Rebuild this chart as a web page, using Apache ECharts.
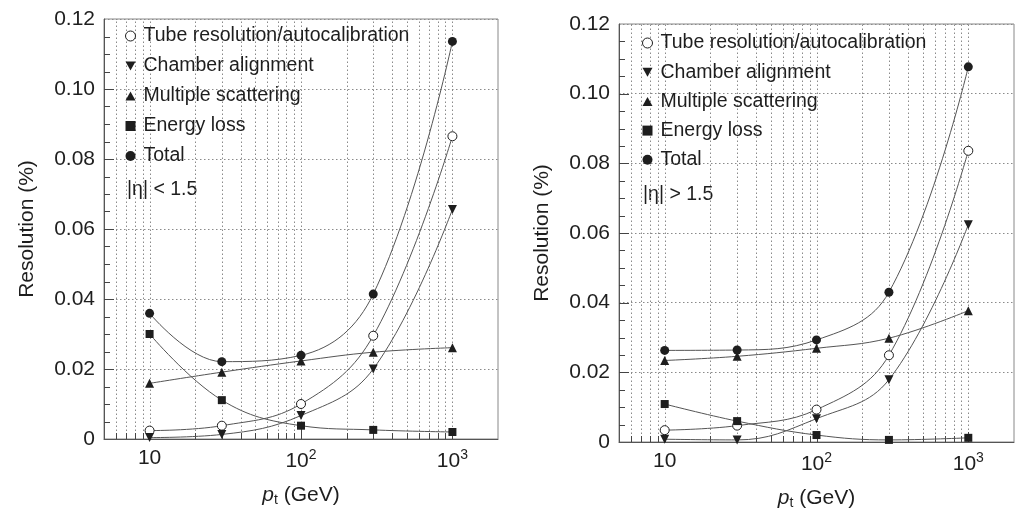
<!DOCTYPE html>
<html>
<head>
<meta charset="utf-8">
<script src="https://cdn.jsdelivr.net/npm/echarts@6.0.0/dist/echarts.min.js"></script>
<style>
  html, body { margin: 0; padding: 0; background: #fff; }
  #chart { width: 1025px; height: 515px; }
</style>
</head>
<body>
<div id="chart"></div>
<script>
// pt points (GeV)
const ptValues = [10, 30, 100, 300, 1000]

// |eta| < 1.5
const tubeC  = [0.0024, 0.0038, 0.0100, 0.0295, 0.0865]
const alignC = [0.0004, 0.0013, 0.0067, 0.0200, 0.0656]
const msC    = [0.0159, 0.0191, 0.0223, 0.0248, 0.0261]
const elossC = [0.0300, 0.0111, 0.0038, 0.0026, 0.0020]
const totalC = [0.0359, 0.0221, 0.0239, 0.0414, 0.1136]

// |eta| > 1.5
const tubeF  = [0.0034, 0.0047, 0.0093, 0.0249, 0.0836]
const alignF = [0.0008, 0.0006, 0.0067, 0.0179, 0.0624]
const msF    = [0.0234, 0.0246, 0.0269, 0.0298, 0.0377]
const elossF = [0.0109, 0.0060, 0.0020, 0.0006, 0.0012]
const totalF = [0.0263, 0.0264, 0.0293, 0.0430, 0.1077]

const seriesNames = ['Tube resolution/autocalibration', 'Chamber alignment', 'Multiple scattering', 'Energy loss', 'Total']
const etaLabels = ['|\u03b7| < 1.5', '|\u03b7| > 1.5']

// log grid lines (dotted) at every 1..9 x decade
const gridX = [6, 7, 8, 9, 10, 20, 30, 40, 50, 60, 70, 80, 90, 100, 200, 300, 400, 500, 600, 700, 800, 900, 1000]
const majorX = [10, 100, 1000]
// y ticks every 0.005
const tickY = [0.005, 0.01, 0.015, 0.02, 0.025, 0.03, 0.035, 0.04, 0.045, 0.05, 0.055, 0.06,
               0.065, 0.07, 0.075, 0.08, 0.085, 0.09, 0.095, 0.1, 0.105, 0.11, 0.115]

const FONT = '"Liberation Sans", Arial, Helvetica, sans-serif'
const INK = '#1e1e1e'
const LINE = '#555'
const DOT = '#8a8a8a'
const downTri = 'path://M0,0L10,0L5,9Z'
const upTri = 'path://M5,0L10,9L0,9Z'

const chart = echarts.init(document.getElementById('chart'))

function pairs(ys) {
    return ptValues.map((x, i) => [x, ys[i]])
}

// dotted vertical grid + bottom ticks
function renderGridX(params, api) {
    const v = api.value(0)
    const bot = api.coord([v, 0])
    const top = api.coord([v, 0.12])
    const x = Math.round(bot[0]) + 0.5
    const tick = majorX.indexOf(v) >= 0 ? 10 : 6
    return {
        type: 'group',
        children: [
            { type: 'line', shape: { x1: x, y1: bot[1], x2: x, y2: top[1] },
              style: { stroke: DOT, lineWidth: 1, lineDash: [1.5, 2.5] } },
            { type: 'line', shape: { x1: x, y1: bot[1], x2: x, y2: bot[1] - tick },
              style: { stroke: '#444', lineWidth: 1 } }
        ]
    }
}

// left ticks every 0.005
function renderTickY(params, api) {
    const v = api.value(1)
    const p = api.coord([5, v])
    const y = Math.round(p[1]) + 0.5
    const major = Math.abs(v / 0.02 - Math.round(v / 0.02)) < 1e-6
    return { type: 'line', shape: { x1: p[0], y1: y, x2: p[0] + (major ? 10 : 6), y2: y },
             style: { stroke: '#444', lineWidth: 1 } }
}

function panelSeries(idx, sets) {
    const common = {
        type: 'line',
        xAxisIndex: idx,
        yAxisIndex: idx,
        smooth: 0.4,
        lineStyle: { color: LINE, width: 1 },
        itemStyle: { color: INK },
        z: 5
    }
    return [
        { type: 'custom', xAxisIndex: idx, yAxisIndex: idx, silent: true, z: 1,
          renderItem: renderGridX, data: gridX.map(v => [v, 0]) },
        { type: 'custom', xAxisIndex: idx, yAxisIndex: idx, silent: true, z: 1,
          renderItem: renderTickY, data: tickY.map(v => [5, v]) },
        Object.assign({}, common, { name: seriesNames[0], data: pairs(sets[0]), symbol: 'circle', symbolSize: 9,
            itemStyle: { color: '#fff', borderColor: INK, borderWidth: 1 } }),
        Object.assign({}, common, { name: seriesNames[1], data: pairs(sets[1]), symbol: 'triangle', symbolRotate: 180, symbolSize: 9 }),
        Object.assign({}, common, { name: seriesNames[2], data: pairs(sets[2]), symbol: 'triangle', symbolSize: 9 }),
        Object.assign({}, common, { name: seriesNames[3], data: pairs(sets[3]), symbol: 'rect', symbolSize: 8 }),
        Object.assign({}, common, { name: seriesNames[4], data: pairs(sets[4]), symbol: 'circle', symbolSize: 9 })
    ]
}

function legendFor(left, top, gap) {
    return {
        orient: 'vertical',
        left: left,
        top: top,
        itemWidth: 10,
        itemHeight: 10,
        itemGap: gap,
        selectedMode: false,
        textStyle: { fontFamily: FONT, fontSize: 19.5, color: INK, padding: [0, 0, 0, 3] },
        data: [
            { name: seriesNames[0], icon: 'circle', itemStyle: { color: '#fff', borderColor: INK, borderWidth: 1 } },
            { name: seriesNames[1], icon: downTri, itemStyle: { color: INK } },
            { name: seriesNames[2], icon: upTri, itemStyle: { color: INK } },
            { name: seriesNames[3], icon: 'rect', itemStyle: { color: INK } },
            { name: seriesNames[4], icon: 'circle', itemStyle: { color: INK } }
        ]
    }
}

function xAxisFor(idx) {
    return {
        type: 'log',
        gridIndex: idx,
        logBase: 10,
        min: 5,
        max: 2000,
        name: '{i|p}{sub|t} (GeV)',
        nameLocation: 'middle',
        nameGap: 44,
        nameTextStyle: {
            fontFamily: FONT, fontSize: 21, color: INK,
            rich: {
                i: { fontFamily: FONT, fontSize: 21, fontStyle: 'italic', color: INK },
                sub: { fontFamily: FONT, fontSize: 14, color: INK, padding: [10, 0, 0, 0] }
            }
        },
        axisLine: { lineStyle: { color: '#555', width: 1 } },
        axisTick: { show: false },
        splitLine: { show: false },
        axisLabel: {
            margin: 9,
            showMinLabel: false,
            showMaxLabel: false,
            fontFamily: FONT, fontSize: 21, color: INK,
            formatter: function (v) {
                if (Math.abs(v - 10) < 1e-6) return '10'
                if (Math.abs(v - 100) < 1e-6) return '10{sup|2}'
                if (Math.abs(v - 1000) < 1e-6) return '10{sup|3}'
                return ''
            },
            rich: {
                sup: { fontFamily: FONT, fontSize: 14, color: INK, padding: [0, 0, 12, 0] }
            }
        }
    }
}

function yAxisFor(idx) {
    return {
        type: 'value',
        gridIndex: idx,
        min: 0,
        max: 0.12,
        interval: 0.02,
        name: 'Resolution (%)',
        nameLocation: 'middle',
        nameGap: 66,
        nameTextStyle: { fontFamily: FONT, fontSize: 21, color: INK },
        axisLine: { show: true, lineStyle: { color: '#555', width: 1 } },
        axisTick: { show: false },
        splitLine: { show: true, lineStyle: { color: DOT, width: 1, type: [1.5, 2.5] } },
        axisLabel: {
            margin: 9,
            fontFamily: FONT, fontSize: 21, color: INK,
            formatter: v => (v === 0 ? '0' : v.toFixed(2))
        }
    }
}

const option = {
    backgroundColor: '#fff',
    animation: false,
    grid: [
        { left: 104, right: 527, top: 19, bottom: 76, show: true, borderColor: '#888', borderWidth: 1 },
        { left: 619, right: 11, top: 24, bottom: 71, show: true, borderColor: '#888', borderWidth: 1 }
    ],
    xAxis: [xAxisFor(0), xAxisFor(1)],
    yAxis: [yAxisFor(0), yAxisFor(1)],
    legend: [legendFor(120, 21, 10), legendFor(637, 28, 9.2)],
    graphic: [
        { type: 'text', left: 127, top: 180, style: { text: etaLabels[0], font: '19.5px ' + FONT, fill: INK } },
        { type: 'text', left: 643, top: 185, style: { text: etaLabels[1], font: '19.5px ' + FONT, fill: INK } }
    ],
    series: panelSeries(0, [tubeC, alignC, msC, elossC, totalC])
        .concat(panelSeries(1, [tubeF, alignF, msF, elossF, totalF]))
}

chart.setOption(option)
</script>
</body>
</html>
